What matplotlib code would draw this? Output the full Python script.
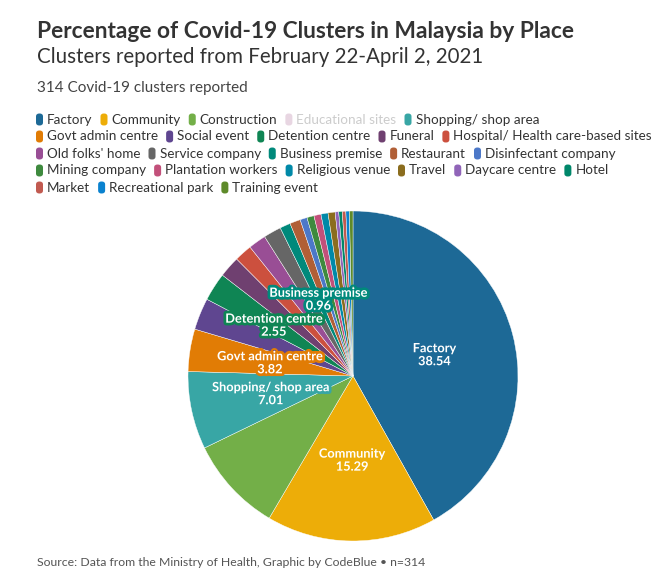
import matplotlib
matplotlib.use("Agg")
import matplotlib.pyplot as plt
import matplotlib.patheffects as pe
from matplotlib.patches import FancyBboxPatch
import numpy as np

# clusters per place (n=314)
places = ["Factory", "Community", "Construction", "Educational sites", "Shopping/ shop area",
          "Govt admin centre", "Social event", "Detention centre", "Funeral",
          "Hospital/ Health care-based sites", "Old folks' home", "Service company",
          "Business premise", "Restaurant", "Disinfectant company", "Mining company",
          "Plantation workers", "Religious venue", "Travel", "Daycare centre", "Hotel",
          "Market", "Recreational park", "Training event"]
clusters = [121, 48, 27, 25, 22, 12, 9, 8, 6, 5, 5, 5, 3, 3, 2, 2, 2, 2, 2, 1, 1, 1, 1, 1]
colours = ["#1D6996", "#EDAD08", "#73AF48", "#94346E", "#38A6A5", "#E17C05", "#5F4690",
           "#0F8554", "#6F4070", "#CC503E", "#994E95", "#666666", "#00897B", "#B15F36",
           "#4C78C8", "#3E8A3E", "#C2507A", "#0089A8", "#8B6D1E", "#9064B8", "#00876A",
           "#C15A50", "#0A82CF", "#5E8A2A"]
hidden = ["Educational sites"]  # switched off in the legend
labelled = ["Factory", "Community", "Shopping/ shop area", "Govt admin centre",
            "Detention centre", "Business premise"]
legend_rows = [5, 5, 5, 6, 3]
total = sum(clusters)

W, H = 667, 586
plt.rcParams["font.family"] = ["Lato", "DejaVu Sans"]
fig = plt.figure(figsize=(W / 100, H / 100), dpi=100)


def px(x, y):
    return x / W, 1 - y / H


# header
fig.text(*px(37, 38), "Percentage of Covid-19 Clusters in Malaysia by Place",
         fontsize=16.4, fontweight="bold", color="#333333", va="baseline")
fig.text(*px(37, 63), "Clusters reported from February 22-April 2, 2021",
         fontsize=14.8, color="#333333", va="baseline")
fig.text(*px(37, 92), "314 Covid-19 clusters reported",
         fontsize=11, color="#444444", va="baseline")
fig.text(*px(37, 566), "Source: Data from the Ministry of Health, Graphic by CodeBlue \u2022 n=314",
         fontsize=8.8, color="#555555", va="baseline")

# legend, flowed row by row
renderer = fig.canvas.get_renderer()
i = 0
y = 119.5
for n in legend_rows:
    x = 36
    for name, col in zip(places[i:i + n], colours[i:i + n]):
        off = name in hidden
        fig.patches.append(FancyBboxPatch(px(x, y + 6), 7 / W, 12 / H,
                                          boxstyle="round,pad=0,rounding_size=0.005",
                                          transform=fig.transFigure, linewidth=0,
                                          facecolor="#E8D6E2" if off else col))
        t = fig.text(*px(x + 11, y), name, fontsize=9.75, color="#CCCCCC" if off else "#333333",
                     va="center")
        w = t.get_window_extent(renderer).width
        x += 11 + w + 8
    i += n
    y += 17

# pie
ax = fig.add_axes([188 / W, 45 / H, 330 / W, 330 / H])
vals = [c for p, c in zip(places, clusters) if p not in hidden]
cols = [c for p, c in zip(places, colours) if p not in hidden]
names = [p for p in places if p not in hidden]
wedges, _ = ax.pie(vals, colors=cols, startangle=90, counterclock=False,
                   wedgeprops=dict(edgecolor="white", linewidth=0.3))
ax.set_xlim(-1, 1)
ax.set_ylim(-1, 1)
ax.axis("off")

label_r = {"Detention centre": 0.57}
for wdg, name, v, col in zip(wedges, names, vals, cols):
    if name not in labelled:
        continue
    ang = np.deg2rad((wdg.theta1 + wdg.theta2) / 2)
    r = label_r.get(name, 0.51)
    ax.text(r * np.cos(ang), r * np.sin(ang), f"{name}\n{v / total * 100:.2f}",
            ha="center", va="center", fontsize=9.2, fontweight="bold", color="white",
            linespacing=1.1,
            path_effects=[pe.withStroke(linewidth=4, foreground=col)])

fig.savefig("out.png", dpi=100)
